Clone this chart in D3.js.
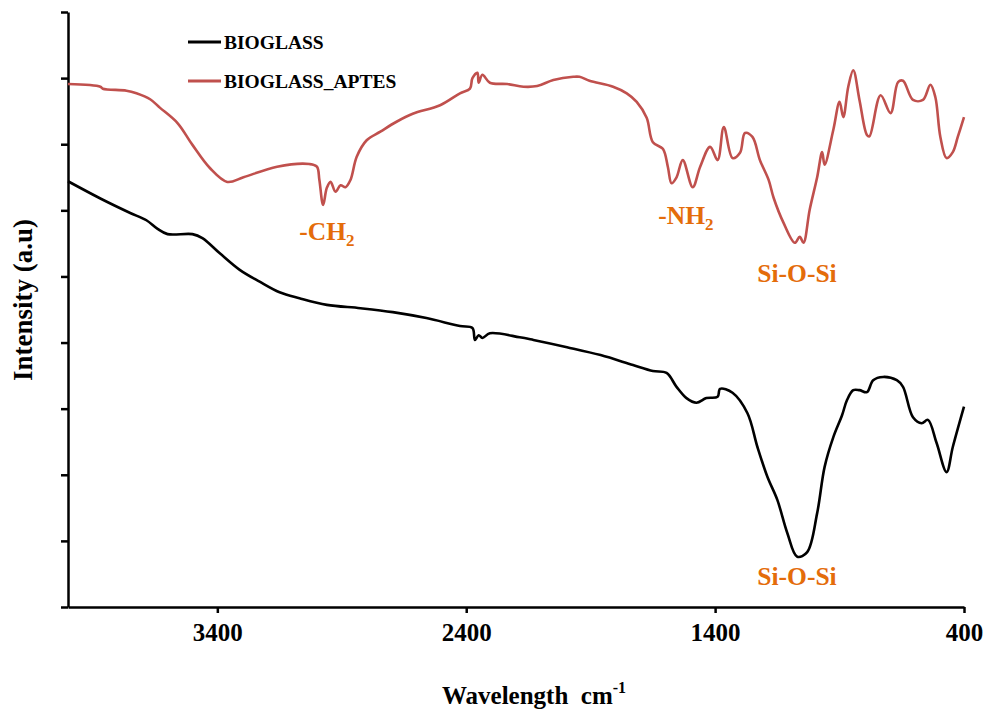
<!DOCTYPE html>
<html>
<head>
<meta charset="utf-8">
<script src="https://cdn.jsdelivr.net/npm/d3@7"></script>
<style>
    body { margin: 0; background: #fff; }
    text { font-family: "Liberation Serif", "Times New Roman", serif; font-weight: bold; }
</style>
</head>
<body>
<script>
// FTIR spectra, wavenumber (cm-1) vs intensity in arbitrary units
let seriesNames = ["BIOGLASS", "BIOGLASS_APTES"];
let seriesColors = ["#000000", "#C0504D"];
let xTicks = [3400, 2400, 1400, 400];
let yTicks = [0, 1, 2, 3, 4, 5, 6, 7, 8, 9];

let bioglass = [
    [4000, 6.44], [3860, 6.16], [3750, 5.96], [3685, 5.85], [3640, 5.72], [3600, 5.64],
    [3500, 5.64], [3460, 5.58], [3390, 5.35], [3310, 5.10], [3230, 4.92], [3150, 4.76],
    [3070, 4.67], [2960, 4.57], [2825, 4.52], [2695, 4.46], [2560, 4.37], [2425, 4.25],
    [2375, 4.22], [2365, 4.04], [2350, 4.11], [2335, 4.07], [2305, 4.14], [2185, 4.08],
    [2130, 4.04], [1995, 3.93], [1860, 3.81], [1730, 3.66], [1650, 3.57], [1595, 3.54],
    [1555, 3.33], [1515, 3.16], [1475, 3.09], [1435, 3.16], [1390, 3.18], [1380, 3.30],
    [1330, 3.24], [1270, 2.93], [1230, 2.42], [1190, 1.97], [1150, 1.62], [1110, 1.12],
    [1070, 0.76], [1030, 0.83], [990, 1.42], [960, 2.12], [925, 2.57], [890, 2.90],
    [870, 3.13], [845, 3.28], [820, 3.28], [790, 3.25], [765, 3.43], [725, 3.48],
    [670, 3.43], [645, 3.33], [605, 2.87], [570, 2.78], [545, 2.83], [510, 2.48],
    [470, 2.04], [445, 2.42], [400, 3.03]
];

let bioglassAptes = [
    [4000, 7.91], [3870, 7.87], [3860, 7.84], [3765, 7.81], [3725, 7.77], [3670, 7.68],
    [3630, 7.55], [3560, 7.32], [3500, 6.99], [3430, 6.64], [3360, 6.43], [3295, 6.50],
    [3160, 6.66], [3030, 6.70], [3000, 6.66], [2990, 6.46], [2975, 6.08], [2960, 6.34],
    [2945, 6.43], [2925, 6.28], [2905, 6.38], [2885, 6.35], [2865, 6.46], [2840, 6.81],
    [2800, 7.06], [2745, 7.19], [2680, 7.34], [2615, 7.46], [2505, 7.59], [2425, 7.77],
    [2385, 7.84], [2375, 8.00], [2355, 8.08], [2350, 7.93], [2335, 8.05], [2305, 7.93],
    [2235, 7.91], [2170, 7.87], [2115, 7.88], [2050, 7.97], [1970, 8.02], [1945, 8.02],
    [1905, 7.96], [1810, 7.87], [1755, 7.77], [1715, 7.64], [1675, 7.40], [1650, 7.03],
    [1610, 6.93], [1590, 6.66], [1575, 6.41], [1555, 6.50], [1530, 6.76], [1490, 6.35],
    [1460, 6.66], [1420, 6.96], [1390, 6.76], [1365, 7.26], [1330, 6.79], [1300, 6.87],
    [1280, 7.17], [1250, 7.11], [1220, 6.76], [1185, 6.46], [1165, 6.19], [1125, 5.81],
    [1080, 5.51], [1060, 5.60], [1045, 5.51], [1020, 6.01], [990, 6.50], [970, 6.88],
    [960, 6.69], [925, 7.22], [900, 7.64], [885, 7.41], [865, 7.87], [845, 8.12],
    [820, 7.67], [790, 7.14], [780, 7.12], [735, 7.74], [695, 7.47], [665, 7.94],
    [645, 7.96], [605, 7.67], [565, 7.67], [535, 7.90], [515, 7.71], [495, 7.11],
    [470, 6.79], [445, 6.88], [425, 7.11], [400, 7.41]
];

// peak labels: text, subscript, wavenumber, intensity of the baseline
let peakLabels = [
    ["-CH", "2", 2960, 5.55],
    ["-NH", "2", 1517, 5.79],
    ["Si-O-Si", "", 1071, 4.92],
    ["Si-O-Si", "", 1071, 0.33]
];

let width = 991, height = 711;
let plotLeft = 68, plotRight = 964, plotTop = 12, plotBottom = 607;
let orange = "#E46C0A";

let svg = d3
    .select("body")
    .append("svg")
    .attr("width", width)
    .attr("height", height);

let x = d3.scaleLinear().domain([4000, 400]).range([plotLeft, plotRight]);
let y = d3.scaleLinear().domain([0, 9]).range([plotBottom, plotTop]);

function drawAxes() {
    let xAxis = svg.append("g")
        .attr("transform", `translate(0,${plotBottom})`)
        .call(d3.axisBottom(x).tickValues(xTicks).tickFormat(d3.format("d"))
            .tickSize(6).tickSizeOuter(0).tickPadding(10));
    xAxis.select(".domain").attr("stroke", "#000").attr("stroke-width", 2.5);
    xAxis.selectAll(".tick line").attr("stroke-width", 2.5);
    xAxis.selectAll(".tick text")
        .attr("font-size", 25)
        .attr("fill", "#000");

    let yAxis = svg.append("g")
        .attr("transform", `translate(${plotLeft},0)`)
        .call(d3.axisLeft(y).tickValues(yTicks).tickFormat("").tickSize(7).tickSizeOuter(0));
    yAxis.select(".domain").attr("stroke", "#000").attr("stroke-width", 2.5);
    yAxis.selectAll(".tick line").attr("stroke-width", 2.5);

    // x axis title with superscript
    let xt = svg.append("text")
        .attr("x", 534)
        .attr("y", 704)
        .attr("text-anchor", "middle")
        .attr("font-size", 25)
        .attr("fill", "#000");
    xt.append("tspan").text("Wavelength\u00a0\u00a0cm");
    xt.append("tspan").attr("font-size", 16).attr("dy", -11).text("-1");

    svg.append("text")
        .attr("transform", "translate(32,300) rotate(-90)")
        .attr("text-anchor", "middle")
        .attr("font-size", 27)
        .attr("fill", "#000")
        .text("Intensity (a.u)");
}

function drawLines() {
    let line = d3.line()
        .x((d) => x(d[0]))
        .y((d) => y(d[1]))
        .curve(d3.curveCatmullRom.alpha(0.5));

    [bioglass, bioglassAptes].map((data, i) => {
        svg.append("path")
            .attr("d", line(data))
            .attr("fill", "none")
            .attr("stroke", seriesColors[i])
            .attr("stroke-width", 2.6)
            .attr("stroke-linejoin", "round");
    });
}

function drawLegend() {
    seriesNames.map((name, i) => {
        let ly = 42 + i * 39;
        svg.append("line")
            .attr("x1", 188)
            .attr("x2", 221)
            .attr("y1", ly)
            .attr("y2", ly)
            .attr("stroke", seriesColors[i])
            .attr("stroke-width", 3);
        svg.append("text")
            .attr("x", 224)
            .attr("y", ly + 7)
            .attr("font-size", 19.5)
            .attr("fill", "#000")
            .text(name);
    });
}

function drawPeakLabels() {
    peakLabels.map((p) => {
        let t = svg.append("text")
            .attr("x", x(p[2]))
            .attr("y", y(p[3]))
            .attr("text-anchor", "middle")
            .attr("font-size", 25.5)
            .attr("fill", orange);
        t.append("tspan").text(p[0]);
        if (p[1]) {
            t.append("tspan").attr("font-size", 17).attr("dy", 6).text(p[1]);
        }
    });
}

drawAxes();
drawLines();
drawLegend();
drawPeakLabels();
</script>
</body>
</html>
